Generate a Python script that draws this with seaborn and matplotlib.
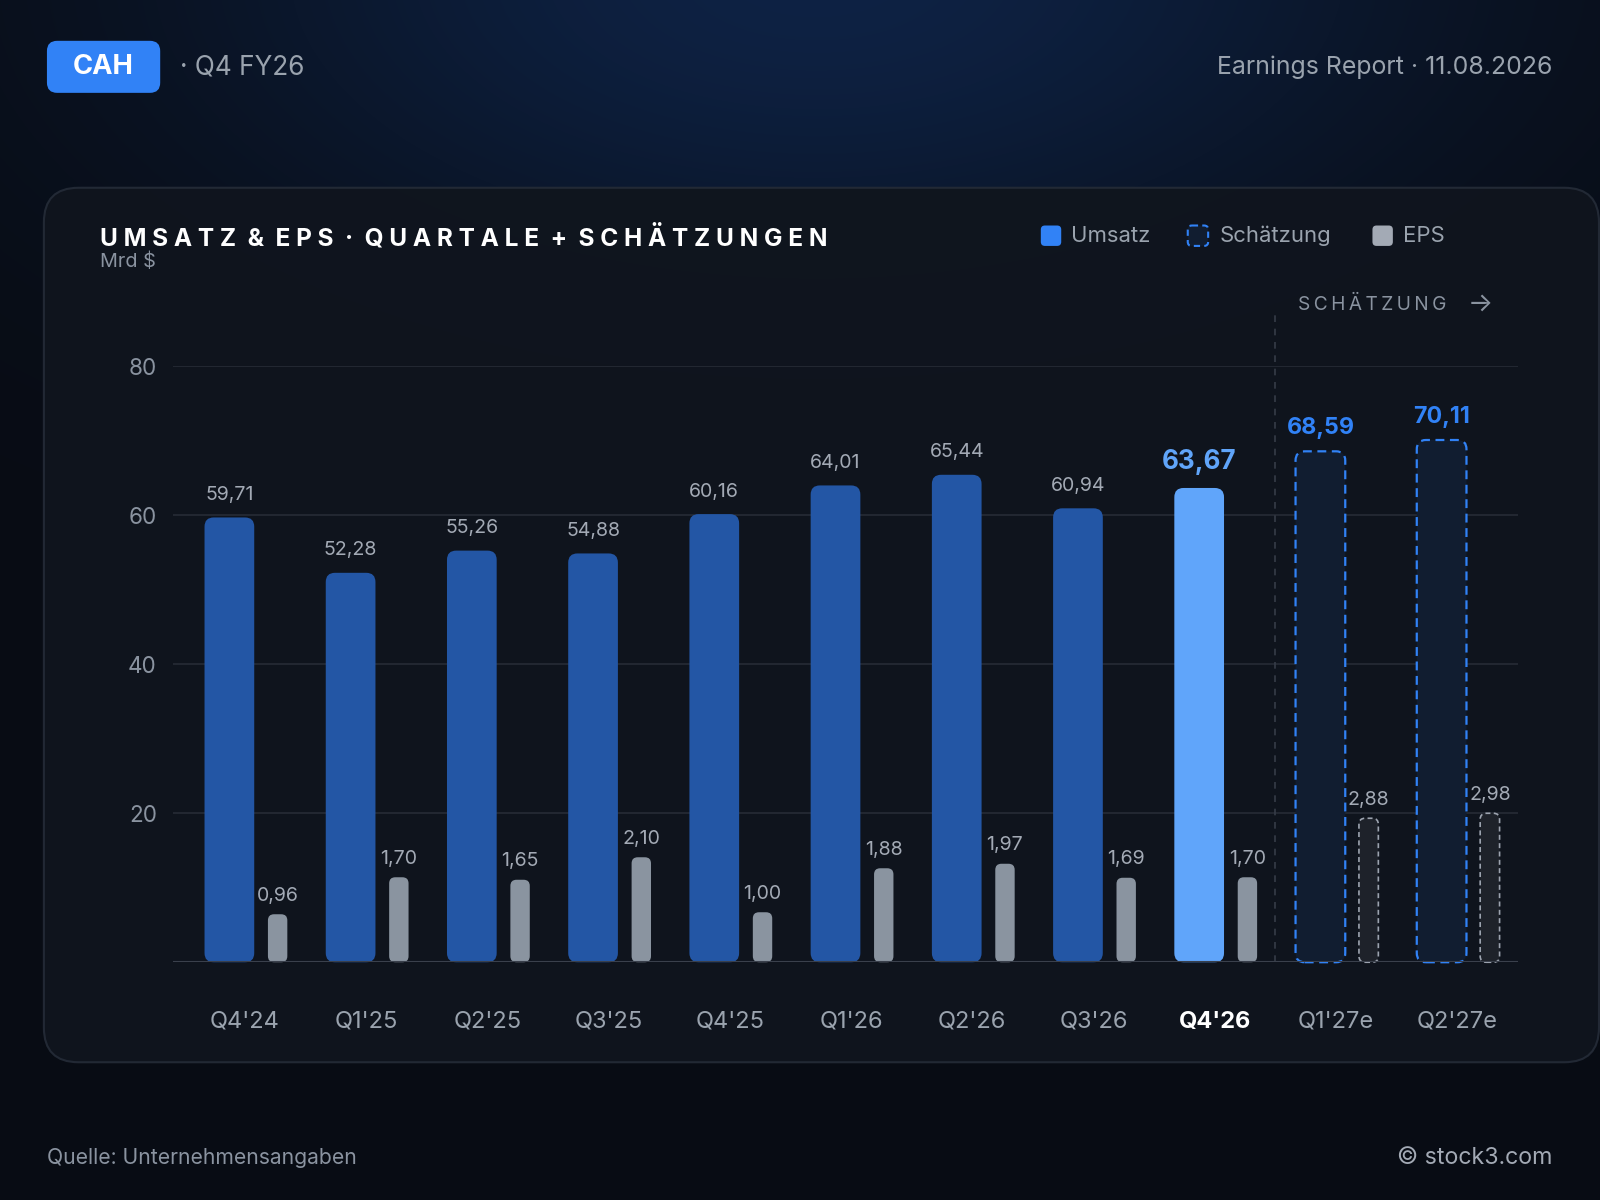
import numpy as np
import pandas as pd
import matplotlib
matplotlib.use("Agg")
import matplotlib.pyplot as plt
from matplotlib.patches import FancyBboxPatch
import seaborn as sns

# ---------------- data ----------------
quarters = ["Q4'24", "Q1'25", "Q2'25", "Q3'25", "Q4'25", "Q1'26", "Q2'26", "Q3'26", "Q4'26", "Q1'27e", "Q2'27e"]
revenue = [59.71, 52.28, 55.26, 54.88, 60.16, 64.01, 65.44, 60.94, 63.67, 68.59, 70.11]
eps = [0.96, 1.70, 1.65, 2.10, 1.00, 1.88, 1.97, 1.69, 1.70, 2.88, 2.98]
kind = ["actual"] * 8 + ["current"] + ["estimate"] * 2
y_ticks = [20, 40, 60, 80]
eps_scale = 20 / 2.98  # EPS bars drawn on revenue axis

def de(v):
    return f"{v:.2f}".replace(".", ",")

sns.set_theme(style="dark")
plt.rcParams["font.family"] = ["Inter", "DejaVu Sans"]

# layout space (design units), rendered to 1600x1200
W, H = 1568, 1176
S = 1600 / W
fig = plt.figure(figsize=(16, 12), dpi=100)

# ---------------- background ----------------
bg = fig.add_axes([0, 0, 1, 1], zorder=0)
bg.set_xlim(0, W)
bg.set_ylim(H, 0)
bg.axis("off")
yy, xx = np.mgrid[0:H, 0:W]
glow = np.exp(-(((xx - 800) / 620.0) ** 2 + ((yy + 30) / 320.0) ** 2))
base = np.array([8, 12, 20]) / 255.0
glowc = np.array([14, 34, 68]) / 255.0
img = base[None, None, :] * (1 - glow[..., None]) + glowc[None, None, :] * glow[..., None]
bg.imshow(img, extent=(0, W, H, 0), aspect="auto", zorder=0)

# card
card = FancyBboxPatch((43, 184), 1524, 857, boxstyle="round,pad=0,rounding_size=34",
                      facecolor="#10151E", edgecolor="#232A36", linewidth=1.5, zorder=1, alpha=0.97)
bg.add_patch(card)

# header
badge = FancyBboxPatch((46, 40), 111, 51, boxstyle="round,pad=0,rounding_size=10",
                       facecolor="#3182F6", edgecolor="none", zorder=2)
bg.add_patch(badge)
bg.text(101.5, 66, "CAH", color="white", fontsize=19.7, fontweight="bold", ha="center", va="center", zorder=3)
bg.text(176, 66, "· Q4 FY26", color="#9AA3AE", fontsize=18.9, ha="left", va="center", zorder=3)
bg.text(1521, 66, "Earnings Report · 11.08.2026", color="#9AA3AE", fontsize=17.9, ha="right", va="center", zorder=3)

# title (letter-spaced)
title = "UMSATZ & EPS · QUARTALE + SCHÄTZUNGEN"
spaced = "  ".join(" ".join(list(w)) for w in title.split(" "))
bg.text(98, 233, spaced, color="white", fontsize=17.6, fontweight="bold", ha="left", va="center", zorder=3)
bg.text(98, 257, "Mrd $", color="#8A93A0", fontsize=14.3, ha="left", va="center", zorder=3)

# legend
def leg_box(x, fc, ec, ls, lw):
    bg.add_patch(FancyBboxPatch((x, 221), 20, 20, boxstyle="round,pad=0,rounding_size=4",
                                facecolor=fc, edgecolor=ec, linestyle=ls, linewidth=lw, zorder=3))

leg_box(1020, "#3182F6", "none", "-", 0)
bg.text(1050, 231, "Umsatz", color="#9AA3AE", fontsize=15.9, ha="left", va="center", zorder=3)
leg_box(1164, "#111D30", "#3182F6", (0, (3, 2)), 1.5)
bg.text(1195, 231, "Schätzung", color="#9AA3AE", fontsize=15.9, ha="left", va="center", zorder=3)
leg_box(1345, "#A3AAB5", "none", "-", 0)
bg.text(1375, 231, "EPS", color="#9AA3AE", fontsize=15.9, ha="left", va="center", zorder=3)

bg.text(1272, 299, "\u2009".join("SCHÄTZUNG"), color="#8A93A0", fontsize=13.8,
        ha="left", va="center", zorder=3)
bg.text(1463, 298, "→", color="#8A93A0", fontsize=19, ha="right", va="center", zorder=3)

# footer
bg.text(46, 1135, "Quelle: Unternehmensangaben", color="#8A93A0", fontsize=15.2, ha="left", va="center", zorder=3)
bg.text(1521, 1135, "© stock3.com", color="#A3AAB5", fontsize=16.7, ha="right", va="center", zorder=3)

# ---------------- main axes ----------------
ax_l, ax_r, ax_b, ax_t = 170, 1488, 943, 359
ax = fig.add_axes([ax_l / W, 1 - ax_b / H, (ax_r - ax_l) / W, (ax_b - ax_t) / H], zorder=2)
ax.set_facecolor("none")

pos = np.arange(len(quarters))
df = pd.DataFrame({"quarter": quarters, "revenue": revenue, "eps": eps, "kind": kind,
                   "rev_x": pos - 0.128, "eps_x": pos + 0.27})
df["eps_bar"] = df["eps"] * eps_scale

sns.barplot(data=df, x="rev_x", y="revenue", native_scale=True, width=0.41, color="#2356A5",
            ax=ax, saturation=1, errorbar=None)
n_rev = len(ax.patches)
sns.barplot(data=df, x="eps_x", y="eps_bar", native_scale=True, width=0.16, color="#8A94A0",
            ax=ax, saturation=1, errorbar=None)

step = 118.8
xlim = ((ax_l - 240) / step, (ax_r - 240) / step)
ylim = (0, 80)
ax.set_xlim(*xlim)
ax.set_ylim(*ylim)

x_ppu = ax.bbox.width / (xlim[1] - xlim[0])
y_ppu = ax.bbox.height / (ylim[1] - ylim[0])

patches = list(ax.patches)
rev_patches = sorted(patches[:n_rev], key=lambda p: p.get_x())
eps_patches = sorted(patches[n_rev:], key=lambda p: p.get_x())

def rounded(p, r_px, **kw):
    x, y, w, h = p.get_x(), p.get_y(), p.get_width(), p.get_height()
    fb = FancyBboxPatch((x, y), w, h, boxstyle=f"round,pad=0,rounding_size={r_px * S / x_ppu}",
                        mutation_aspect=x_ppu / y_ppu, clip_on=False, **kw)
    p.remove()
    ax.add_patch(fb)
    return fb

def label(p, text, dy, **kw):
    ax.annotate(text, (p.get_x() + p.get_width() / 2, p.get_height()), xytext=(0, dy * S),
                textcoords="offset pixels", ha="center", va="center", **kw)

for i, p in enumerate(rev_patches):
    k = kind[i]
    if k == "actual":
        rounded(p, 9, facecolor="#2356A5", edgecolor="none", zorder=3)
        label(p, de(revenue[i]), 22, color="#A3AAB5", fontsize=14.1)
    elif k == "current":
        rounded(p, 9, facecolor="#60A5FA", edgecolor="none", zorder=3)
        label(p, de(revenue[i]), 25, color="#60A5FA", fontsize=18.8, fontweight="bold")
    else:
        rounded(p, 9, facecolor="#111D30", edgecolor="#3182F6", linestyle=(0, (4, 2.5)), linewidth=1.6, zorder=3)
        label(p, de(revenue[i]), 23, color="#3182F6", fontsize=16.7, fontweight="bold")

for i, p in enumerate(eps_patches):
    if kind[i] == "estimate":
        rounded(p, 6, facecolor="#1E222A", edgecolor="#9CA3AF", linestyle=(0, (3, 2)), linewidth=1.2, zorder=3)
    else:
        rounded(p, 6, facecolor="#8A94A0", edgecolor="none", zorder=3)
    label(p, de(eps[i]), 18, color="#A3AAB5", fontsize=14.1)

# grid + baseline
for t in y_ticks:
    ax.axhline(t, color="#262B36", linewidth=1.2, zorder=1)
ax.axhline(0, color="#3A404C", linewidth=1.5, zorder=4)

# estimate separator
ax.plot([8.5, 8.5], [0, 87], color="#363C48", linewidth=1.2, linestyle=(0, (4, 4)), clip_on=False, zorder=1)

# ticks
ax.set_yticks(y_ticks)
ax.set_yticklabels([str(t) for t in y_ticks])
ax.set_xticks(pos)
ax.set_xticklabels(quarters)
ax.tick_params(axis="y", length=0, pad=12, labelsize=16.2, labelcolor="#8A93A0")
ax.tick_params(axis="x", length=0, pad=35, labelsize=17, labelcolor="#9AA3AE")
for lbl in ax.get_xticklabels():
    if lbl.get_text() == "Q4'26":
        lbl.set_color("white")
        lbl.set_fontweight("bold")
ax.set_xlabel("")
ax.set_ylabel("")
ax.grid(False)
for s in ax.spines.values():
    s.set_visible(False)

fig.savefig("out.png", dpi=100)
